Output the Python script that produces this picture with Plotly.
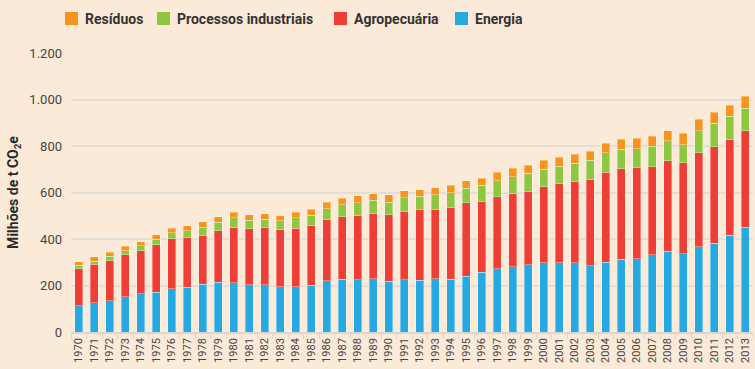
import plotly.graph_objects as go

years = [str(y) for y in range(1970, 2014)]

energia = [113,126,135,152,164,172,186,192,205,215,211,204,204,195,194,201,221,226,225,228,
           219,225,222,228,226,239,256,272,281,289,297,298,297,286,300,314,315,332,348,336,
           366,381,417,451]
agropecuaria = [160,165,172,181,186,204,215,214,212,220,238,241,245,244,253,257,263,269,276,283,
                285,293,303,301,309,316,304,309,314,317,327,340,349,371,388,388,391,379,388,393,
                405,415,411,414]
processos = [15,14,18,17,22,23,25,29,34,37,42,36,37,39,44,44,47,52,56,56,
             54,60,59,61,65,63,71,70,73,76,77,74,79,81,83,83,83,88,86,77,
             94,101,101,98]
residuos = [15,19,17,18,17,19,20,21,23,23,25,23,23,23,24,27,28,28,28,27,
            32,29,28,30,31,32,31,36,36,36,37,40,39,39,41,43,45,42,43,48,
            49,48,46,51]

y_tickvals = [0, 200, 400, 600, 800, 1000, 1200]
y_ticktext = ["0", "200", "400", "600", "800", "1.000", "1.200"]

series_names = ["Energia", "Agropecuária", "Processos industriais", "Resíduos"]
series_values = [energia, agropecuaria, processos, residuos]
series_colors = ["#26a9e0", "#ee3f36", "#8dc63f", "#f7941d"]

# layout geometry (pixels)
W, H = 755, 369
ML, MR, MT, MB = 71, 2, 53, 37
PW, PH = W - ML - MR, H - MT - MB

def px_x(px):
    return (px - ML) / PW

def px_y(py):
    return (H - MB - py) / PH

fig = go.Figure()
for name, vals, color in zip(series_names, series_values, series_colors):
    fig.add_trace(go.Bar(
        x=years, y=vals, name=name, showlegend=False,
        marker=dict(color=color, line=dict(color="rgba(255,255,255,0.35)", width=1)),
    ))

# manual legend (order as in the reference)
legend_order = ["Resíduos", "Processos industriais", "Agropecuária", "Energia"]
legend_left_px = [65, 157, 334, 455]
for name, left in zip(legend_order, legend_left_px):
    color = series_colors[series_names.index(name)]
    fig.add_shape(type="rect", xref="paper", yref="paper",
                  x0=px_x(left), x1=px_x(left + 13), y0=px_y(25), y1=px_y(12),
                  fillcolor=color, line=dict(width=0))
    fig.add_annotation(xref="paper", yref="paper", x=px_x(left + 18), y=px_y(18.5),
                       xanchor="left", yanchor="middle", showarrow=False,
                       text="<b>%s</b>" % name, font=dict(size=14, color="#333333"))

BG = "rgb(252,234,217)"
fig.update_layout(
    width=W, height=H,
    barmode="stack", bargap=0.5,
    paper_bgcolor=BG, plot_bgcolor=BG,
    margin=dict(l=ML, r=MR, t=MT, b=MB, autoexpand=False),
    font=dict(family="Roboto", color="#3a3a3a"),
    showlegend=False,
)
fig.update_xaxes(
    type="category", tickangle=-90, tickfont=dict(size=11, color="#444444"),
    showgrid=False, showline=True, linecolor="#d9d6d2", linewidth=1.5,
    ticks="outside", tickson="boundaries", ticklen=5, tickcolor="#d9d6d2",
    range=[-0.5, 43.5], automargin=False,
)
fig.update_yaxes(
    range=[0, 1200], tickvals=y_tickvals, ticktext=y_ticktext,
    tickfont=dict(size=13, color="#444444"),
    showgrid=True, gridcolor="#e2ddd6", gridwidth=1.5, zeroline=False,
    ticklabelstandoff=8, automargin=False,
    title=dict(text="<b>Milhões de t CO<sub>2</sub>e</b>", font=dict(size=14, color="#2a2a2a"), standoff=7),
)

fig.write_html(
    "out.html",
    config={"displayModeBar": False},
    post_script="document.body.style.margin='0';document.body.style.padding='0';document.body.style.overflow='hidden';",
)
